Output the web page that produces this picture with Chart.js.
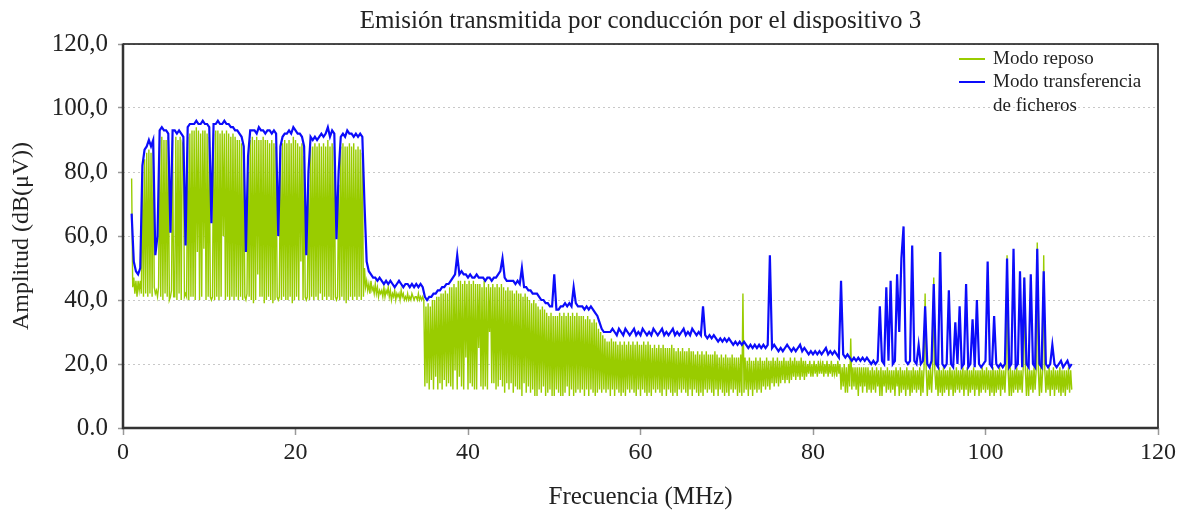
<!DOCTYPE html>
<html>
<head>
<meta charset="utf-8">
<script src="https://cdn.jsdelivr.net/npm/chart.js@4.4.1/dist/chart.umd.min.js"></script>
<style>
  html, body { margin: 0; padding: 0; background: #ffffff; }
  #wrap { position: relative; width: 1184px; height: 519px; }
  #legend { position: absolute; left: 0; top: 0; font-family: "Liberation Serif", serif; font-size: 19px; color: #222; }
  #legend .sw { position: absolute; width: 26px; height: 2px; }
  #legend .tx { position: absolute; line-height: 20px; white-space: nowrap; }
</style>
</head>
<body>
<div id="wrap">
  <canvas id="c" width="1184" height="519"></canvas>
  <div id="legend"></div>
</div>
<script>
// ---- Data ----
// "Modo reposo" (green) sampled every 0.125 MHz from 1.0 MHz; "Modo transferencia" (blue) every 0.25 MHz.
const reposoStartMHz = 1.0;
const reposoStepMHz = 0.125;
const transfStartMHz = 1.0;
const transfStepMHz = 0.25;

const seriesNames = ["Modo reposo", "Modo transferencia", "de ficheros"];

// green, one row per MHz: n.000 .125 .250 .375 .500 .625 .750 .875
const reposo = [
  78,44,47,42,46,41,46,43, 46,42,80,41,84,42,86,41, 87,42,86,41,88,44,42,43, 41,44,90,41,91,40,90,42, 90,41,91,40,41,43,90,41, // 1-5
  41,91,40,90,42,91,40,89, 88,41,42,41,91,40,92,41, 93,41,93,40,94,55,93,40, 92,41,93,56,93,40,92,41, 91,41,40,41,92,40,93,41, // 6-10
  93,40,92,41,93,60,92,40, 93,41,92,40,91,41,92,40, 91,41,90,40,90,41,89,40, 85,41,40,42,80,41,90,40, 91,39,90,40,91,48,90,41, // 11-15
  90,41,91,39,90,40,90,41, 89,40,90,39,89,40,88,41, 40,41,86,40,89,41,90,40, 89,40,90,41,89,39,91,40, 90,41,89,40,88,52,89,40, // 16-20
  85,41,40,41,76,40,88,41, 88,40,89,41,88,40,89,42, 88,40,89,41,88,40,90,41, 88,40,89,40,88,41,40,41, 76,40,88,41,89,40,88,39, // 21-25
  88,40,89,41,88,40,89,41, 87,40,88,41,87,40,86,41, 50,44,46,43,45,42,46,43, 44,42,45,42,44,41,43,42, 43,41,44,41,43,42,44,41, // 26-30
  43,40,42,41,43,40,42,41, 42,40,43,41,42,40,41,40, 42,40,41,40,42,41,40,41, 41,40,42,40,41,40,41,40, 13,38,14,39,12,38,15,40, // 31-35
  12,40,16,41,12,41,14,42, 12,42,15,43,13,42,14,44, 13,44,12,45,18,44,12,46, 16,46,13,45,12,46,22,45, 12,46,14,45,13,46,12,45, // 36-40
  12,45,25,45,13,44,12,46, 13,44,12,45,30,44,14,45, 14,44,12,45,13,44,15,45, 13,44,11,43,14,44,12,43, 14,43,11,42,13,43,12,42, // 41-45
  12,42,10,41,14,42,11,41, 13,40,11,39,12,40,10,39, 10,38,12,37,11,38,13,37, 10,36,11,35,12,36,10,35, 10,35,12,35,11,36,10,35, // 46-50
  10,36,11,35,13,36,10,35, 12,36,10,35,11,36,12,35, 11,35,12,35,10,34,12,35, 10,34,12,33,11,34,10,33, 11,31,12,30,11,29,12,28, // 51-55
  11,27,12,27,10,28,12,27, 10,27,12,26,11,27,10,26, 11,27,10,26,12,27,11,26, 12,27,11,26,10,27,12,26, 10,26,12,27,11,26,10,27, // 56-60
  11,26,10,25,12,26,11,25, 12,26,11,25,10,26,12,25, 10,25,12,25,11,26,10,25, 11,24,10,25,12,24,11,25, 12,24,11,24,10,25,12,24, // 61-65
  10,24,12,23,11,24,10,23, 11,24,10,23,12,24,11,23, 12,23,11,23,10,24,12,23, 10,22,12,23,11,22,10,23, 11,22,10,22,12,23,11,22, // 66-70
  12,22,10,22,11,23,10,42, 11,22,12,21,10,22,12,21, 10,21,12,22,11,21,12,22, 11,21,13,21,12,22,13,21, 12,21,14,22,13,21,14,22, // 71-75
  13,21,14,21,15,22,14,21, 15,21,14,22,15,21,16,22, 15,21,16,21,15,22,16,21, 15,21,16,20,17,21,16,20, 16,21,17,20,16,21,17,20, // 76-80
  17,21,16,20,17,21,16,20, 17,21,16,20,17,20,16,21, 17,20,12,19,13,20,11,19, 11,20,13,28,12,19,13,19, 12,19,10,19,13,19,11,19, // 81-85
  13,19,11,19,12,18,11,19, 12,18,11,19,13,18,10,19, 10,18,13,18,11,19,12,18, 11,18,12,18,10,19,13,18, 10,19,11,18,12,18,10,19, // 86-90
  12,18,10,18,11,19,12,18, 11,18,12,19,10,18,11,19, 42,18,10,18,12,19,11,18, 47,18,12,18,10,19,11,18, 10,19,11,18,12,18,10,19, // 91-95
  12,18,10,18,11,19,12,18, 11,18,12,19,10,18,12,19, 10,18,11,18,12,19,10,18, 12,18,10,18,11,19,12,18, 11,19,12,18,10,18,11,19, // 96-100
  10,18,11,18,12,19,10,18, 12,18,11,19,54,18,10,19, 10,18,11,18,12,19,11,18, 12,18,11,19,47,18,10,19, 10,18,12,18,11,19,12,18, // 101-105
  58,18,10,19,11,18,54,18, 11,18,12,19,10,18,12,19, 10,18,12,18,11,19,10,18, 11,18,10,18,12,19,11,18,                          // 106-109
  12                                                                                                                        // 110
];

// blue, one row per MHz: n.00 .25 .50 .75
const transferencia = [
  67,52,49,48,  50,82,87,88,  90,88,90,54,  60,93,94,93,  93,92,61,93,   // 1-5
  93,92,93,92,  91,57,94,95,  95,95,96,95,  95,96,95,95,  94,64,95,95,   // 6-10
  96,95,95,96,  95,95,94,94,  93,93,92,91,  88,55,85,93,  93,93,92,94,   // 11-15
  93,93,92,93,  93,92,93,92,  60,88,91,92,  92,93,92,94,  93,92,92,91,   // 16-20
  88,54,80,91,  90,91,90,91,  92,91,92,94,  91,93,92,59,  80,91,92,91,   // 21-25
  93,92,92,91,  92,91,92,91,  70,52,49,48,  47,47,46,47,  46,45,46,45,   // 26-30
  46,45,44,45,  46,45,44,45,  45,44,45,44,  45,44,45,44,  41,40,41,41,   // 31-35
  42,42,43,43,  44,44,45,45,  46,47,48,54,  48,49,48,48,  47,48,47,47,   // 36-40
  48,47,47,47,  46,47,47,46,  47,47,48,49,  53,47,46,46,  46,46,45,46,   // 41-45
  45,50,44,44,  43,43,42,42,  42,41,40,40,  39,39,38,38,  48,37,37,38,   // 46-50
  38,39,38,39,  38,44,39,38,  38,38,37,38,  37,38,37,36,  35,33,31,30,   // 51-55
  30,30,30,31,  30,29,31,30,  29,31,30,29,  30,31,29,30,  29,31,30,29,   // 56-60
  30,29,31,30,  29,30,31,29,  30,29,30,31,  29,30,29,30,  31,29,30,29,   // 61-65
  31,30,29,30,  29,38,29,28,  29,28,29,28,  27,28,27,28,  27,28,27,26,   // 66-70
  27,26,27,26,  27,26,25,26,  25,26,25,26,  25,26,25,26,  54,25,26,25,   // 71-75
  24,25,24,25,  26,25,24,25,  24,25,26,24,  25,24,23,24,  23,24,23,24,   // 76-80
  23,24,25,23,  24,23,24,23,  22,46,23,22,  23,22,21,22,  21,22,21,22,   // 81-85
  21,22,21,20,  21,20,21,38,  21,20,44,21,  46,20,21,48,  30,53,63,21,   // 86-90
  20,21,57,21,  20,26,20,21,  38,20,19,21,  45,20,19,55,  20,19,20,43,   // 91-95
  20,19,33,20,  38,19,20,45,  19,20,34,19,  40,20,19,20,  21,52,20,19,   // 96-100
  35,20,19,20,  19,20,53,19,  20,56,19,20,  49,19,47,20,  19,48,20,19,   // 101-105
  56,20,19,49,  20,19,20,26,  20,19,20,21,  19,20,21,19,                 // 106-109
  20                                                                      // 110
];

const yTickLabels = ["0.0", "20,0", "40,0", "60,0", "80,0", "100,0", "120,0"];
const xTickLabels = ["0", "20", "40", "60", "80", "100", "120"];

const chartTitle = "Emisión transmitida por conducción por el dispositivo 3";
const xAxisTitle = "Frecuencia (MHz)";
const yAxisTitle = "Amplitud (dB(μV))";

// ---- build ----
const toPoints = (arr, start, step) => arr.map((v, i) => ({ x: start + i * step, y: v }));

const GREEN = "rgb(153,204,0)";
const BLUE = "rgb(12,12,250)";
const FONT = "'Liberation Serif', 'Times New Roman', serif";

const framePlugin = {
  id: "frame",
  afterDatasetsDraw(chart) {
    const { ctx, chartArea: a } = chart;
    ctx.save();
    ctx.strokeStyle = "#111";
    ctx.lineWidth = 1.5;
    ctx.beginPath();
    ctx.moveTo(a.left, a.top); ctx.lineTo(a.right, a.top); ctx.lineTo(a.right, a.bottom);
    ctx.stroke();
    ctx.strokeStyle = "#333";
    ctx.lineWidth = 2.5;
    ctx.beginPath();
    ctx.moveTo(a.left, a.top - 0.5); ctx.lineTo(a.left, a.bottom); ctx.lineTo(a.right + 0.5, a.bottom);
    ctx.stroke();
    ctx.restore();
  }
};

new Chart(document.getElementById("c"), {
  type: "line",
  data: {
    datasets: [
      { label: seriesNames[0], data: toPoints(reposo, reposoStartMHz, reposoStepMHz), borderColor: GREEN, borderWidth: 1.4,
        pointRadius: 0, tension: 0, order: 2 },
      { label: seriesNames[1] + " " + seriesNames[2], data: toPoints(transferencia, transfStartMHz, transfStepMHz),
        borderColor: BLUE, borderWidth: 2.2, pointRadius: 0, tension: 0, order: 1 }
    ]
  },
  options: {
    responsive: false,
    animation: false,
    devicePixelRatio: 1,
    layout: { padding: { left: 0, right: 26, top: 0, bottom: 0 } },
    plugins: {
      legend: { display: false },
      tooltip: { enabled: false },
      title: {
        display: true, text: chartTitle, fullSize: false, color: "#222",
        font: { family: FONT, size: 25, weight: "normal" },
        padding: { top: 6, bottom: 8 }
      }
    },
    scales: {
      x: {
        type: "linear", min: 0, max: 120,
        afterFit: s => { s.height = 91; },
        ticks: { stepSize: 20, color: "#222", font: { family: FONT, size: 24 }, padding: 3, maxRotation: 0,
                 callback: (v) => xTickLabels[Math.round(v / 20)] },
        grid: { drawOnChartArea: false, drawTicks: true, tickLength: 7, tickColor: "#999", tickWidth: 1.5 },
        border: { display: false },
        title: { display: true, text: xAxisTitle, color: "#222", font: { family: FONT, size: 25 }, padding: { top: 0, bottom: 7 } }
      },
      y: {
        min: 0, max: 120,
        afterFit: s => { s.width = 123; },
        ticks: { stepSize: 20, color: "#222", font: { family: FONT, size: 25 }, padding: 10,
                 callback: (v) => yTickLabels[Math.round(v / 20)] },
        grid: { color: "#c8c8c8", lineWidth: 1, drawTicks: true, tickLength: 5, tickColor: "#999", tickWidth: 1.5, tickBorderDash: [] },
        border: { display: false, dash: [2, 3] },
        title: { display: true, text: yAxisTitle, color: "#222", font: { family: FONT, size: 24 }, padding: { top: 7.6, bottom: 0 } }
      }
    }
  },
  plugins: [framePlugin]
});

// ---- legend (inside plot, top right) ----
const legendItems = [
  { color: GREEN, lines: [seriesNames[0]], cy: 59 },
  { color: BLUE, lines: [seriesNames[1], seriesNames[2]], cy: 82 }
];
const lg = document.getElementById("legend");
legendItems.forEach(it => {
  const sw = document.createElement("div");
  sw.className = "sw"; sw.style.background = it.color;
  sw.style.left = "959px"; sw.style.top = (it.cy - 1) + "px";
  lg.appendChild(sw);
  it.lines.forEach((t, k) => {
    const tx = document.createElement("div");
    tx.className = "tx"; tx.textContent = t;
    tx.style.left = "993px"; tx.style.top = (it.cy - 11 + k * 24) + "px";
    lg.appendChild(tx);
  });
});
</script>
</body>
</html>
